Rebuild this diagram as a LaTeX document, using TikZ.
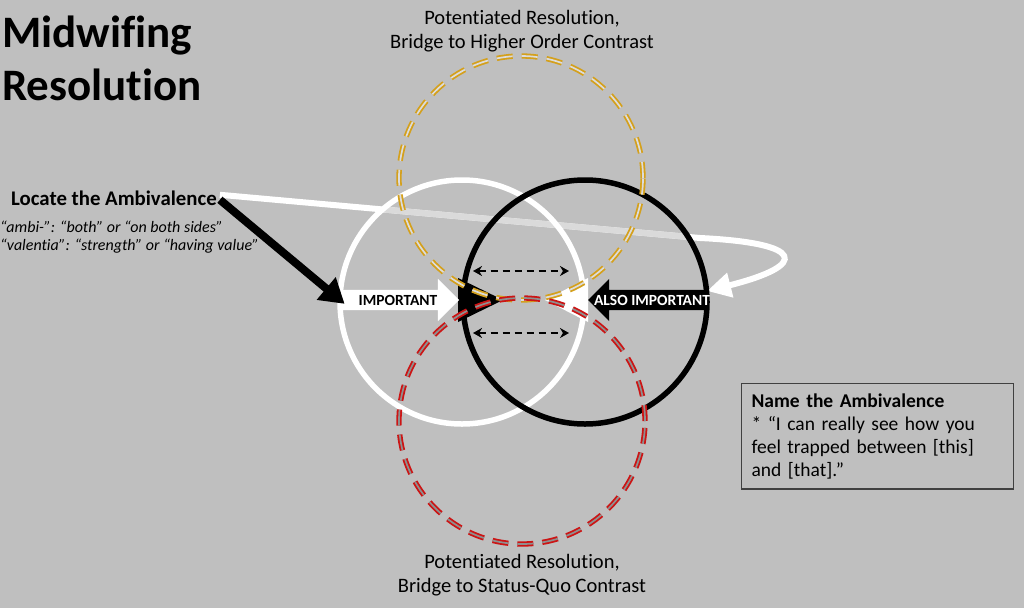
\documentclass[tikz,border=0pt]{standalone}
\usepackage{fontspec}
\setmainfont{Carlito}[Ligatures=NoCommon]
\usepackage{xcolor}
\usetikzlibrary{shapes.arrows,arrows.meta}
\definecolor{slidegray}{HTML}{BFBFBF}
\definecolor{fadedwhite}{HTML}{DADADA}
\definecolor{bridgegold}{HTML}{D4A01C}
\definecolor{bridgered}{HTML}{CC1414}
\definecolor{boxline}{HTML}{404040}

\tikzset{
  ring/.style={circle, minimum size=244pt, inner sep=0pt, line width=5.5pt},
  dashring/.style={ring, line width=1.8pt, double distance=1.7pt, dash pattern=on 16pt off 9pt},
  imparrow/.style={single arrow, single arrow head extend=11pt, minimum height=119pt, text height=10pt, text depth=0pt, inner ysep=5pt, inner xsep=0pt, outer sep=0pt},
  implabel/.style={font=\bfseries\fontsize{15.5}{18}\selectfont, inner sep=0pt},
  caption/.style={font=\fontsize{20.5}{24}\selectfont, align=center, inner sep=0pt, anchor=base},
  tradearrow/.style={line width=1.8pt, dash pattern=on 7pt off 5pt, {Stealth[length=9pt,width=10pt]}-{Stealth[length=9pt,width=10pt]}}
}

\begin{document}
\begin{tikzpicture}[x=1pt, y=-1pt]
    \useasboundingbox[fill=slidegray] (0,0) rectangle (1024,608);

    \node[anchor=base west, align=left, inner sep=0pt, font=\bfseries\fontsize{45}{53}\selectfont] (title) at (2,100) {Midwifing\\Resolution};
    \node[anchor=base west, inner sep=0pt, font=\bfseries\fontsize{20.8}{24}\selectfont] (loc) at (11,205) {Locate the Ambivalence};
    \node[anchor=base west, align=left, inner sep=0pt, font=\itshape\fontsize{16}{17.5}\selectfont] (ambi) at (0,250) {“ambi-”: “both” or “on both sides”\\“valentia”: “strength” or “having value”};

    \coordinate (bend) at (700,238);
    \path ([xshift=3pt,yshift=3pt]loc.east) -- (bend) coordinate[pos=0.34] (fadeA) coordinate[pos=0.975] (fadeB);

    \node[imparrow, anchor=tip] (imp) at (459,300) {};
    \node[imparrow, shape border rotate=180, anchor=tip] (also) at (588,300) {};

    \draw[white, line width=6pt, -{Triangle[width=24pt,length=24pt]}] ([xshift=3pt,yshift=3pt]loc.east) -- (bend) .. controls (805,243) and (810,265) .. ([yshift=9pt]also.tail);
    \draw[fadedwhite, line width=6pt] (fadeA) -- (fadeB);

    \node[ring, draw=white] (pro) at (462,302) {};
    \node[ring, draw=black] (con) at (585,302) {};

    \fill[black] (458,278) -- (503,300) -- (458,322) -- cycle;
    \fill[white] (588,278) -- (545,300) -- (588,322) -- cycle;
    \node[imparrow, fill=white, anchor=tip] at (imp.tip) {};
    \node[imparrow, fill=black, shape border rotate=180, anchor=tip] at (also.tip) {};
    \node[implabel, text=black] at ([xshift=-61pt]imp.tip) {IMPORTANT};
    \node[implabel, text=white] at ([xshift=64pt]also.tip) {ALSO IMPORTANT};

    \node[dashring, draw=bridgegold, double=slidegray!55!white] (higher) at (521,178) {};
    \node[dashring, draw=bridgered, double=slidegray!75!black, minimum size=246pt] (statusquo) at (522,421) {};

    \coordinate (upL) at (473,271);
    \coordinate (upR) at (569,271);
    \coordinate (loL) at (473,333);
    \coordinate (loR) at (569,333);
    \draw[tradearrow] (upL) -- (upR);
    \draw[tradearrow] (loL) -- (loR);

    \draw[line width=8pt, -{Triangle[width=28pt,length=24pt]}, shorten >=-6pt] ([xshift=3pt,yshift=-2pt]loc.east) -- (imp.tail);

    \node[caption] (toplbl) at (522,48) {Potentiated Resolution,\\Bridge to Higher Order Contrast};
    \node[caption] (botlbl) at (522,592) {Potentiated Resolution,\\Bridge to Status-Quo Contrast};

    \node[draw=boxline, line width=1.2pt, anchor=north west, text width=252pt, inner xsep=10pt, inner ysep=10pt, font=\fontsize{19.5}{23}\selectfont] (namebox) at (741,383) {\textbf{Name the Ambivalence}\\{}* “I can really see how you\linebreak feel trapped between [this]\linebreak and [that].”};
\end{tikzpicture}
\end{document}
